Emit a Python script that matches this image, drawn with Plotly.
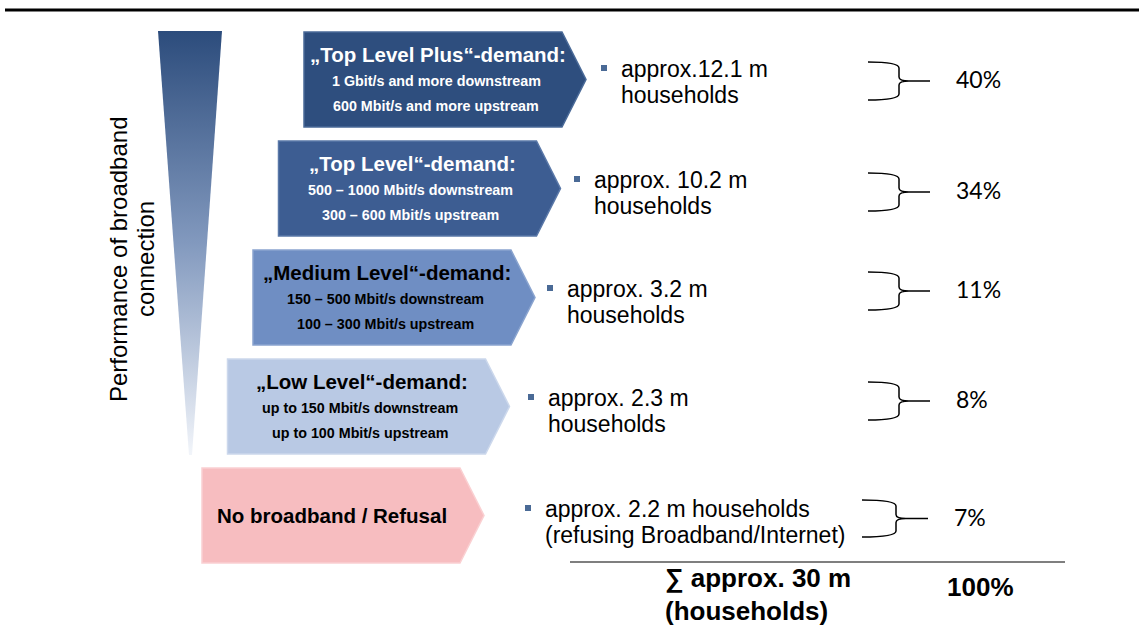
import plotly.graph_objects as go

# ---------------- data ----------------
categories = ["„Top Level Plus“-demand:", "„Top Level“-demand:", "„Medium Level“-demand:",
              "„Low Level“-demand:", "No broadband / Refusal"]
downstream = ["1 Gbit/s and more downstream", "500 – 1000 Mbit/s downstream",
              "150 – 500 Mbit/s downstream", "up to 150 Mbit/s downstream", ""]
upstream = ["600 Mbit/s and more upstream", "300 – 600 Mbit/s upstream",
            "100 – 300 Mbit/s upstream", "up to 100 Mbit/s upstream", ""]
households_m = [12.1, 10.2, 3.2, 2.3, 2.2]
household_line1 = ["approx.12.1 m", "approx. 10.2 m", "approx. 3.2 m", "approx. 2.3 m",
                   "approx. 2.2 m households"]
household_line2 = ["households", "households", "households", "households",
                   "(refusing Broadband/Internet)"]
shares_pct = [40, 34, 11, 8, 7]
total_m = 30
total_pct = 100
axis_label = ["Performance of broadband", "connection"]

# ---------------- styles ----------------
fills = ["#2E4E7E", "#3D5D92", "#6F8EC3", "#B9C9E4", "#F7BDC0"]
edges = ["#4A6A98", "#5A78A8", "#8AA4CF", "#CCD8EC", "#FAD0D2"]
txtcol = ["white", "white", "black", "black", "black"]
FONT = "Liberation Sans, Arial, sans-serif"
PFONT = "Lato, Open Sans, sans-serif"

fig = go.Figure()
shapes = []
ann = []

# top rule
shapes.append(dict(type="line", x0=5, x1=1139, y0=10, y1=10, line=dict(color="black", width=3)))

# wedge with gradient
fig.add_trace(go.Scatter(
    x=[158, 222, 192, 189, 158], y=[31, 31, 455, 455, 31],
    mode="lines", fill="toself", line=dict(width=0, color="rgba(0,0,0,0)"),
    fillgradient=dict(type="vertical", colorscale=[[0, "#F2F5FA"], [0.5, "#8299BE"], [1, "#2C4C7C"]]),
    hoverinfo="skip", showlegend=False))

for i, cat in enumerate(categories):
    top = 32 + 109 * i
    bot = top + 95
    mid = (top + bot) / 2
    left = 304 - 25.5 * i
    rect_r = left + 258
    tip = rect_r + 24
    path = f"M{left},{top} L{rect_r},{top} L{tip},{mid} L{rect_r},{bot} L{left},{bot} Z"
    shapes.append(dict(type="path", path=path, xref="x", yref="y",
                       fillcolor=fills[i], line=dict(color=edges[i], width=1.5), layer="below"))
    cx = (left + rect_r) / 2 + 3
    if downstream[i]:
        ann.append(dict(x=cx + 2, y=top + 22, text=f"<b>{cat}</b>", font=dict(family=FONT, size=20.5, color=txtcol[i])))
        ann.append(dict(x=cx, y=top + 49, text=f"<b>{downstream[i]}</b>", font=dict(family=FONT, size=14.3, color=txtcol[i])))
        ann.append(dict(x=cx, y=top + 74, text=f"<b>{upstream[i]}</b>", font=dict(family=FONT, size=14.3, color=txtcol[i])))
    else:
        ann.append(dict(x=cx - 2, y=mid, text=f"<b>{cat}</b>", font=dict(family=FONT, size=20.5, color=txtcol[i])))

    # bullet + household text
    bx = [604, 577, 550, 531, 528][i]
    by = [68, 179, 288, 397, 508][i]
    shapes.append(dict(type="rect", x0=bx - 3, x1=bx + 3, y0=by - 3, y1=by + 3,
                       fillcolor="#4A6A96", line=dict(width=0)))
    ann.append(dict(x=bx + 15, y=by + 0.5, text=household_line1[i], xanchor="left",
                    font=dict(family=FONT, size=23, color="black")))
    ann.append(dict(x=bx + 15, y=by + 27, text=household_line2[i], xanchor="left",
                    font=dict(family=FONT, size=23, color="black")))

    # brace
    bt = [62, 173, 272, 382, 500][i]
    bb = bt + 38
    bm = (bt + bb) / 2
    x0, xv, xt = 868, 899, 930
    if i == 4:
        x0, xv, xt = 862, 896, 928
        bb = 537
        bm = (bt + bb) / 2
    bp = (f"M{x0},{bt} Q{xv},{bt} {xv},{bt+6} L{xv},{bm-4} Q{xv},{bm} {xv+10},{bm} L{xt},{bm} "
          f"M{xv+10},{bm} Q{xv},{bm} {xv},{bm+4} L{xv},{bb-6} Q{xv},{bb} {x0},{bb}")
    shapes.append(dict(type="path", path=bp, line=dict(color="black", width=1.5)))
    ann.append(dict(x=[954, 954, 954, 954, 952][i], y=bm - 2, text=f"{shares_pct[i]}%", xanchor="left",
                    font=dict(family=PFONT, size=23, color="black")))

# bottom line & totals
shapes.append(dict(type="line", x0=570, x1=1065, y0=562, y1=562, line=dict(color="black", width=1.2)))
ann.append(dict(x=663, y=578, text=f"<b>∑ approx. {total_m} m</b>", xanchor="left",
                font=dict(family=FONT, size=26, color="black")))
ann.append(dict(x=663, y=611, text="<b>(households)</b>", xanchor="left",
                font=dict(family=FONT, size=26, color="black")))
ann.append(dict(x=945, y=587, text=f"<b>{total_pct}%</b>", xanchor="left",
                font=dict(family=FONT, size=26, color="black")))

# rotated axis label
ann.append(dict(x=118, y=259, text=axis_label[0], textangle=-90,
                font=dict(family=FONT, size=24, color="black")))
ann.append(dict(x=145, y=259, text=axis_label[1], textangle=-90,
                font=dict(family=FONT, size=24, color="black")))

for a in ann:
    a.setdefault("xanchor", "center")
    a.setdefault("yanchor", "middle")
    a.update(xref="x", yref="y", showarrow=False)

fig.update_layout(
    width=1139, height=635, margin=dict(l=0, r=0, t=0, b=0),
    paper_bgcolor="white", plot_bgcolor="white",
    xaxis=dict(range=[0, 1139], visible=False, fixedrange=True),
    yaxis=dict(range=[635, 0], visible=False, fixedrange=True),
    shapes=shapes, annotations=ann, showlegend=False,
)
fig.write_html("out.html", config={"displayModeBar": False},
               post_script="document.body.style.margin='0';document.body.style.overflow='hidden';")
